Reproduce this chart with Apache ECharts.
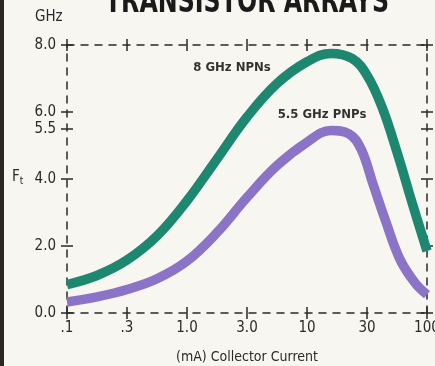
<!DOCTYPE html>
<html><head><meta charset="utf-8">
<script src="https://cdn.jsdelivr.net/npm/echarts@6/dist/echarts.min.js"></script>
<style>html,body{margin:0;padding:0;background:#f8f6f0;}#c{width:435px;height:366px;}</style>
</head><body><div id="c"></div>
<script>
const xTickLabels = ['.1', '.3', '1.0', '3.0', '10', '30', '100'];
const yTickValues = [0, 2, 4, 5.5, 6, 8];
// positions along the evenly spaced current axis (0 = .1 mA ... 6 = 100 mA)
const npnPoints = [[0,0.85],[0.5,1.12],[1,1.58],[1.5,2.3],[2,3.35],[2.5,4.6],[3,5.85],[3.5,6.85],[4,7.5],[4.4,7.75],[4.75,7.6],[5,7.1],[5.25,6.15],[5.5,4.8],[5.75,3.3],[6,1.85]];
const pnpPoints = [[0,0.33],[0.5,0.48],[1,0.7],[1.5,1.02],[2,1.55],[2.5,2.4],[3,3.45],[3.5,4.4],[4,5.1],[4.4,5.45],[4.7,5.35],[4.9,4.9],[5.1,3.85],[5.3,2.8],[5.55,1.6],[5.8,0.9],[6,0.55]];
const seriesNames = ['8 GHz NPNs', '5.5 GHz PNPs'];
const labelPoints = [[2.75, 7.31, '8 GHz NPNs'], [4.25, 5.91, '5.5 GHz PNPs']];

const FONT = "'Liberation Sans Narrow','DejaVu Sans Condensed',sans-serif";
const INK = '#2a2a2a';
const dash = {show:true, onZero:false, lineStyle:{color:INK, width:1.5, type:[7,7]}};
const noLine = {show:false, onZero:false};
const tickOut = {show:true, length:6, lineStyle:{color:INK, width:1.5}};
const tickIn = {show:true, inside:true, length:6, lineStyle:{color:INK, width:1.5}};

function xAx(grid, pos, withLine, ticks, labels) {
  return {gridIndex:grid, type:'value', position:pos, min:0, max:6, interval:1,
    axisLine: withLine ? dash : noLine,
    axisTick: ticks, splitLine:{show:false},
    axisLabel: labels ? {show:true, fontFamily:FONT, fontSize:15, color:INK, margin:8,
      formatter: v => xTickLabels[Math.round(v)]} : {show:false},
    name: labels ? '(mA) Collector Current' : '', nameLocation:'middle', nameGap:37,
    nameTextStyle:{fontFamily:FONT, fontSize:14, color:INK}};
}
function yAx(grid, pos, withLine, ticks, labels) {
  return {gridIndex:grid, type:'value', position:pos, min:0, max:8,
    axisLine: withLine ? dash : noLine,
    axisTick: Object.assign({customValues:yTickValues}, ticks), splitLine:{show:false},
    axisLabel: labels ? {show:true, customValues:yTickValues, fontFamily:FONT, fontSize:15, color:INK, margin:11,
      formatter: v => v.toFixed(1)} : {show:false}};
}

const gridBox = {left:67, right:8, top:45, bottom:53, outerBoundsMode:'none'};
const chart = echarts.init(document.getElementById('c'), null, {renderer:'canvas'});
chart.setOption({
  backgroundColor:'#f8f6f0',
  animation:false,
  grid:[Object.assign({}, gridBox), Object.assign({}, gridBox)],
  xAxis:[xAx(0,'bottom', true, tickOut, true), xAx(0,'top', true, tickOut, false),
         xAx(1,'bottom', false, tickIn, false), xAx(1,'top', false, tickIn, false)],
  yAxis:[yAx(0,'left', true, tickOut, true), yAx(0,'right', true, tickOut, false),
         yAx(1,'left', false, tickIn, false), yAx(1,'right', false, tickIn, false)],
  graphic:[
    {type:'rect', left:0, top:0, shape:{width:4, height:366}, style:{fill:'#2b2622'}},
    {type:'text', x:247, y:-13, scaleX:0.72, style:{text:'TRANSISTOR ARRAYS', font:"bold 33px 'DejaVu Sans'", fill:'#1a1a1a', textAlign:'center'}},
    {type:'text', x:35, y:10, style:{text:'GHz', font:"15px "+FONT, fill:INK}},
    {type:'text', x:12, y:168, style:{text:'{a|F}{b|t}', rich:{a:{fontFamily:FONT, fontSize:15, fill:INK}, b:{fontFamily:FONT, fontSize:10, fill:INK, padding:[8,0,0,0]}}}}
  ],
  series:[
    {name:seriesNames[0], type:'line', data:npnPoints, smooth:0.4, showSymbol:false, xAxisIndex:0, yAxisIndex:0,
      lineStyle:{color:'#1d8770', width:9.5, cap:'butt'}, z:3},
    {name:seriesNames[1], type:'line', data:pnpPoints, smooth:0.4, showSymbol:false, xAxisIndex:0, yAxisIndex:0,
      lineStyle:{color:'#8b74c8', width:9.5, cap:'butt'}, z:3},
    {type:'scatter', data:labelPoints, symbolSize:0, xAxisIndex:0, yAxisIndex:0, z:4,
      label:{show:true, position:'inside', formatter:p => p.data[2], fontFamily:"'DejaVu Sans Condensed',sans-serif", fontWeight:'bold', fontSize:13, color:'#000', textBorderWidth:0}}
  ]
});
</script></body></html>
